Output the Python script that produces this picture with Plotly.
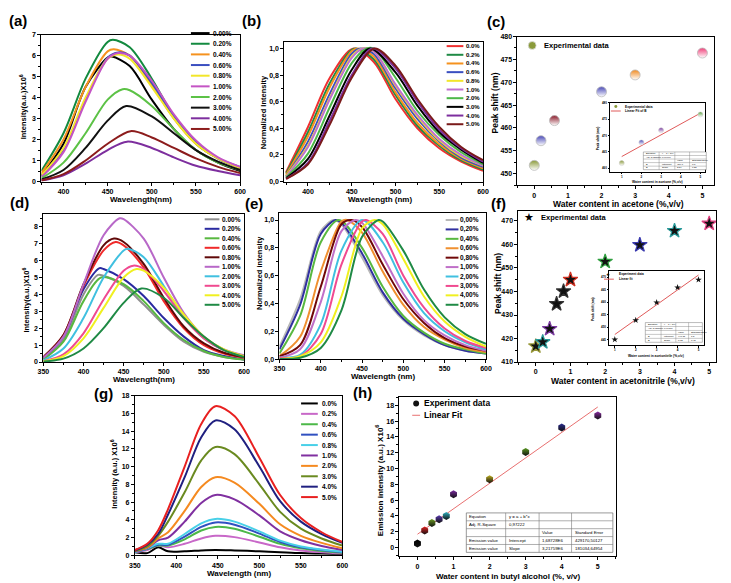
import plotly.graph_objects as go

W, H = 731, 583
FONT = "Arial, Liberation Sans, DejaVu Sans, sans-serif"

# ======================= DATA =======================
# (a) emission in acetone with water, intensity x10^6
A_WL = [375, 400, 425, 450, 475, 500, 525, 550, 575, 600]
A_LABELS = ["0.00%", "0.20%", "0.40%", "0.60%", "0.80%", "1.00%", "2.00%", "3.00%", "4.00%", "5.00%"]
A_COLORS = ["#000000", "#138a3f", "#f5921e", "#3a4fc0", "#f2e62a", "#c454c4", "#5cc246", "#111111", "#7d2e9e", "#8c1c1c"]
A_VALUES = [
    [0.30, 1.80, 4.50, 5.90, 5.50, 3.90, 2.50, 1.50, 0.90, 0.50],
    [0.50, 2.30, 4.90, 6.65, 6.40, 4.90, 3.10, 1.80, 1.10, 0.65],
    [0.40, 2.00, 4.50, 6.20, 6.00, 4.60, 3.00, 1.80, 1.10, 0.65],
    [0.25, 1.50, 3.90, 5.90, 6.00, 4.70, 3.10, 1.90, 1.10, 0.70],
    [0.30, 1.60, 4.00, 5.85, 5.85, 4.50, 3.00, 1.80, 1.10, 0.65],
    [0.20, 1.40, 3.80, 5.85, 6.00, 4.80, 3.20, 1.95, 1.15, 0.70],
    [0.15, 0.90, 2.30, 3.90, 4.35, 3.60, 2.50, 1.50, 0.90, 0.55],
    [0.10, 0.55, 1.60, 2.90, 3.55, 3.10, 2.30, 1.50, 0.95, 0.55],
    [0.05, 0.30, 0.85, 1.50, 1.85, 1.60, 1.15, 0.75, 0.50, 0.30],
    [0.05, 0.35, 1.00, 1.80, 2.35, 2.10, 1.60, 1.10, 0.70, 0.40],
]
A_PEAK_WL = [455, 456, 457, 462, 462, 462, 467, 471, 472, 476]
A_PEAK_VAL = [5.95, 6.75, 6.30, 6.15, 6.05, 6.12, 4.40, 3.60, 1.90, 2.40]

# (b) normalized, acetone
B_WL = [375, 400, 425, 450, 475, 500, 525, 550, 575, 600]
B_LABELS = ["0.0%", "0.2%", "0.4%", "0.6%", "0.8%", "1.0%", "2.0%", "3.0%", "4.0%", "5.0%"]
B_COLORS = ["#f03030", "#1f8a45", "#f5921e", "#3a4fc0", "#f2e62a", "#c070d0", "#4cb848", "#000000", "#7d2e9e", "#7a1a1a"]
B_VALUES = [
    [0.070, 0.41, 0.78, 1.00, 0.90, 0.62, 0.40, 0.25, 0.15, 0.08],
    [0.060, 0.37, 0.74, 0.99, 0.92, 0.65, 0.42, 0.27, 0.16, 0.09],
    [0.050, 0.34, 0.71, 0.98, 0.94, 0.67, 0.44, 0.28, 0.17, 0.10],
    [0.040, 0.30, 0.66, 0.96, 0.96, 0.70, 0.47, 0.30, 0.18, 0.11],
    [0.040, 0.27, 0.63, 0.94, 0.98, 0.72, 0.49, 0.31, 0.19, 0.12],
    [0.035, 0.26, 0.62, 0.93, 0.98, 0.73, 0.50, 0.32, 0.20, 0.12],
    [0.030, 0.21, 0.56, 0.89, 1.00, 0.78, 0.53, 0.35, 0.22, 0.13],
    [0.025, 0.17, 0.50, 0.84, 1.00, 0.82, 0.57, 0.37, 0.24, 0.14],
    [0.020, 0.14, 0.46, 0.80, 0.99, 0.85, 0.60, 0.39, 0.25, 0.15],
    [0.020, 0.13, 0.43, 0.78, 0.99, 0.87, 0.62, 0.41, 0.26, 0.16],
]
B_PEAK_WL = [452, 455, 457, 460, 462, 463, 467, 471, 474, 476]
B_PEAK_VAL = [1.0] * 10
B_YTICKS = [0, 0.2, 0.4, 0.6, 0.8, 1.0]
B_YTEXT = ["0,0", "0,2", "0,4", "0,6", "0,8", "1,0"]

# (c) peak shift vs water in acetone
C_X = [0, 0.2, 0.6, 2, 3, 5]
C_Y = [451.8, 457.2, 461.6, 467.9, 471.6, 476.4]
C_COLORS = ["#8a9a3a", "#4a4ab8", "#8b1a2a", "#4a4ab8", "#f08a20", "#f0407a"]
CI_X = [1, 2, 3, 5]
CI_Y = [461.6, 467.9, 471.6, 476.4]
CI_COLORS = ["#8a9a3a", "#4a4ab8", "#7a3aa0", "#5aa040"]
CI_FIT_X = [1, 5]
CI_FIT_Y = [463.6, 476.8]
CI_TABLE = [["Equation", "y = a + b*x", "", ""],
            ["Adj. R-Square", "0,96990", "", ""],
            ["", "", "Value", "Standard Error"],
            ["B", "Intercept", "459,6", "0,8"],
            ["B", "Slope", "3,54", "0,28"]]

# (d) emission in acetonitrile with water, intensity x10^6
D_WL = [350, 375, 400, 425, 450, 475, 500, 525, 550, 575, 600]
D_LABELS = ["0.00%", "0.20%", "0.40%", "0.60%", "0.80%", "1.00%", "2.00%", "3.00%", "4.00%", "5.00%"]
D_COLORS = ["#909090", "#2a2aa0", "#58b840", "#f02a2a", "#600808", "#b868c8", "#40c0e0", "#f04a90", "#f0f020", "#1f8a45"]
D_VALUES = [
    [0.15, 1.30, 4.00, 5.10, 4.50, 3.40, 2.20, 1.20, 0.60, 0.30, 0.15],
    [0.20, 1.50, 4.30, 5.50, 4.90, 3.90, 2.60, 1.50, 0.70, 0.35, 0.15],
    [0.15, 1.20, 3.60, 4.95, 4.60, 3.60, 2.30, 1.30, 0.65, 0.30, 0.15],
    [0.30, 1.60, 4.50, 6.60, 6.90, 5.60, 3.60, 2.00, 1.00, 0.50, 0.25],
    [0.30, 1.60, 4.60, 6.90, 7.10, 5.80, 3.80, 2.10, 1.10, 0.55, 0.30],
    [0.25, 1.50, 4.60, 7.50, 8.45, 7.30, 5.00, 2.90, 1.50, 0.75, 0.40],
    [0.10, 0.80, 2.60, 5.00, 6.60, 6.20, 4.50, 2.70, 1.40, 0.70, 0.35],
    [0.05, 0.45, 1.70, 3.70, 5.40, 5.50, 4.20, 2.60, 1.40, 0.70, 0.35],
    [0.05, 0.35, 1.40, 3.20, 5.00, 5.40, 4.40, 2.80, 1.50, 0.75, 0.35],
    [0.03, 0.20, 0.80, 2.00, 3.50, 4.30, 3.80, 2.60, 1.50, 0.70, 0.30],
]
D_PEAK_WL = [418, 420, 422, 440, 438, 445, 455, 462, 466, 472]
D_PEAK_VAL = [5.15, 5.55, 5.00, 7.10, 7.30, 8.50, 6.70, 5.70, 5.50, 4.35]

# (e) normalized, acetonitrile
E_WL = [350, 375, 400, 425, 450, 475, 500, 525, 550, 575, 600]
E_LABELS = ["0,00%", "0,20%", "0,40%", "0,60%", "0,80%", "1,00%", "2,00%", "3,00%", "4,00%", "5,00%"]
E_COLORS = ["#b8b8b8", "#3030a0", "#58b840", "#f09030", "#700808", "#c070c8", "#40c0e0", "#f04a90", "#f0f020", "#1f8a45"]
E_VALUES = [
    [0.09, 0.43, 0.92, 0.97, 0.73, 0.46, 0.28, 0.17, 0.10, 0.06, 0.04],
    [0.07, 0.39, 0.90, 0.98, 0.76, 0.48, 0.29, 0.18, 0.10, 0.06, 0.04],
    [0.04, 0.31, 0.84, 1.00, 0.80, 0.52, 0.31, 0.19, 0.11, 0.07, 0.04],
    [0.02, 0.16, 0.63, 0.99, 0.91, 0.63, 0.39, 0.23, 0.14, 0.08, 0.05],
    [0.02, 0.10, 0.52, 0.97, 0.95, 0.68, 0.43, 0.26, 0.15, 0.09, 0.06],
    [0.01, 0.07, 0.41, 0.92, 0.98, 0.74, 0.47, 0.28, 0.17, 0.10, 0.06],
    [0.01, 0.03, 0.25, 0.78, 1.00, 0.84, 0.55, 0.33, 0.20, 0.12, 0.07],
    [0.01, 0.02, 0.18, 0.68, 0.99, 0.90, 0.60, 0.37, 0.22, 0.13, 0.08],
    [0.00, 0.02, 0.12, 0.45, 0.94, 0.97, 0.72, 0.45, 0.27, 0.16, 0.09],
    [0.00, 0.01, 0.08, 0.35, 0.88, 0.99, 0.78, 0.50, 0.30, 0.18, 0.11],
]
E_PEAK_WL = [416, 418, 422, 432, 437, 442, 450, 455, 465, 470]
E_PEAK_VAL = [1.0] * 10

# (f) peak shift vs water in acetonitrile
F_X = [0, 0.2, 0.4, 0.6, 0.8, 1, 2, 3, 4, 5]
F_Y = [416.7, 418.5, 424.1, 434.7, 440.1, 445.0, 452.7, 459.8, 465.8, 468.9]
F_COLORS = ["#9a9a3a", "#2a9a9a", "#7a3aa0", "#333333", "#333333", "#d03020", "#30a040", "#3a3ab0", "#2a9a9a", "#e04080"]
FI_X = [1, 2, 3, 4, 5]
FI_Y = [445.0, 452.7, 459.8, 465.8, 468.9]
FI_FIT_X = [1, 5]
FI_FIT_Y = [447.0, 470.8]
FI_TABLE = [["Equation", "y = a + b*x", "", ""],
            ["Adj. R-Square", "0,97176", "", ""],
            ["", "", "Value", "Standard Error"],
            ["B", "Intercept", "440,11", "1,5"],
            ["B", "Slope", "6,03", "0,45"]]

# (g) emission in butyl alcohol with water, intensity x10^6
G_WL = [350, 365, 378, 390, 410, 430, 447, 470, 500, 525, 550, 575, 600]
G_LABELS = ["0.0%", "0.2%", "0.4%", "0.6%", "0.8%", "1.0%", "2.0%", "3.0%", "4.0%", "5.0%"]
G_COLORS = ["#000000", "#c868c8", "#4cb848", "#3050c0", "#48d0e8", "#8030a0", "#f58a20", "#6a8a20", "#202080", "#e82020"]
G_VALUES = [
    [0.35, 0.25, 0.90, 0.45, 0.45, 0.55, 0.60, 0.55, 0.45, 0.35, 0.25, 0.20, 0.15],
    [0.35, 0.60, 1.10, 0.90, 1.30, 1.90, 2.20, 2.05, 1.45, 0.90, 0.55, 0.35, 0.20],
    [0.40, 0.70, 1.10, 1.10, 1.80, 2.80, 3.20, 3.00, 2.10, 1.30, 0.80, 0.50, 0.30],
    [0.40, 0.75, 1.20, 1.20, 2.10, 3.20, 3.70, 3.45, 2.45, 1.50, 0.90, 0.60, 0.35],
    [0.40, 0.80, 1.30, 1.30, 2.40, 3.60, 4.10, 3.80, 2.70, 1.65, 1.00, 0.65, 0.40],
    [0.45, 0.85, 1.70, 2.00, 3.80, 5.90, 6.80, 6.30, 4.50, 2.70, 1.70, 1.05, 0.60],
    [0.50, 0.90, 1.90, 2.60, 5.00, 7.70, 8.80, 8.20, 5.80, 3.50, 2.20, 1.40, 0.80],
    [0.50, 1.00, 2.20, 3.80, 7.10, 10.70, 12.20, 11.40, 8.00, 4.90, 3.00, 1.90, 1.10],
    [0.55, 1.20, 2.40, 4.60, 8.80, 13.30, 15.20, 14.20, 10.00, 6.10, 3.80, 2.40, 1.40],
    [0.60, 1.30, 2.80, 5.20, 10.00, 14.80, 16.80, 15.70, 11.00, 6.80, 4.20, 2.60, 1.50],
]

# (h) emission intensity vs water in butyl alcohol
H_X = [0, 0.2, 0.4, 0.6, 0.8, 1, 2, 3, 4, 5]
H_Y = [0.53, 2.15, 3.10, 3.60, 4.00, 6.75, 8.65, 12.10, 15.20, 16.70]
H_COLORS = ["#000000", "#e02020", "#6a9a20", "#5a3ab0", "#30b0c0", "#7a2aa0", "#c0b020", "#5a9a20", "#2a2a90", "#8a2aa0"]
H_FIT_X = [0, 5]
H_FIT_Y = [1.69, 17.78]
H_TABLE = [["Equation", "y = a + b*x", "", ""],
           ["Adj. R-Square", "0,97222", "", ""],
           ["", "", "Value", "Standard Error"],
           ["Emission value", "Intercept", "1,68728E6", "429170,50127"],
           ["Emission value", "Slope", "3,21759E6", "181034,64954"]]

# ======================= HELPERS =======================
def px(x):
    return x / W


def py(y):
    return 1 - y / H


def with_peak(grid, vals, pw, pv):
    pts = [(x, y) for x, y in zip(grid, vals) if abs(x - pw) > 4] + [(pw, pv)]
    pts.sort()
    return [p[0] for p in pts], [p[1] for p in pts]


fig = go.Figure()
layout = {}
shapes = []
annotations = []


def tfont(size, color="black", bold=True):
    d = dict(family=FONT, size=size, color=color)
    if bold:
        d["weight"] = "bold"
    return d


def add_axes(n, box, xr, yr, xticks, yticks, ytext=None, fs=7, xminor=None, yminor=None, tl=3, lw=1):
    x0, x1, y0, y1 = box
    sfx = "" if n == 1 else str(n)
    common = dict(showline=True, linecolor="black", linewidth=lw, mirror=True, ticks="outside",
                  ticklen=tl, tickwidth=1, tickcolor="black", showgrid=False, zeroline=False,
                  tickfont=tfont(fs), tickmode="array", ticklabelstandoff=0)
    xa = dict(domain=[px(x0), px(x1)], range=xr, anchor="y" + sfx, tickvals=xticks, **common)
    ya = dict(domain=[py(y1), py(y0)], range=yr, anchor="x" + sfx, tickvals=yticks, **common)
    if ytext is not None:
        ya["ticktext"] = ytext
    if xminor:
        xa["minor"] = dict(ticks="outside", ticklen=max(tl - 1, 1), dtick=xminor, tickcolor="black", showgrid=False)
    if yminor:
        ya["minor"] = dict(ticks="outside", ticklen=max(tl - 1, 1), dtick=yminor, tickcolor="black", showgrid=False)
    layout["xaxis" + sfx] = xa
    layout["yaxis" + sfx] = ya
    return "x" + sfx, "y" + sfx


def text(x, y, s, size, anchor="left", angle=0, bold=True):
    annotations.append(dict(xref="paper", yref="paper", x=px(x), y=py(y), text=s, showarrow=False,
                            xanchor=anchor, yanchor="middle", textangle=angle, font=tfont(size, bold=bold)))


def line_legend(labels, colors, x0, x1, xt, y0, dy, size=6.5, width=2):
    for i, (lab, col) in enumerate(zip(labels, colors)):
        y = y0 + i * dy
        shapes.append(dict(type="line", xref="paper", yref="paper", x0=px(x0), x1=px(x1), y0=py(y), y1=py(y),
                           line=dict(color=col, width=width)))
        text(xt, y, lab, size)


def table(cols, rows, content, size, lw=0.6, pad=1):
    shapes.append(dict(type="rect", xref="paper", yref="paper", x0=px(cols[0]), x1=px(cols[-1]),
                       y0=py(rows[-1]), y1=py(rows[0]), line=dict(color="#555", width=lw), fillcolor="white"))
    for c in cols[1:-1]:
        shapes.append(dict(type="line", xref="paper", yref="paper", x0=px(c), x1=px(c), y0=py(rows[-1]), y1=py(rows[0]),
                           line=dict(color="#777", width=lw)))
    for r in rows[1:-1]:
        shapes.append(dict(type="line", xref="paper", yref="paper", x0=px(cols[0]), x1=px(cols[-1]), y0=py(r), y1=py(r),
                           line=dict(color="#777", width=lw)))
    for i, row in enumerate(content):
        yc = (rows[i] + rows[i + 1]) / 2
        for j, s in enumerate(row):
            if s:
                text(cols[j] + pad, yc, s, size, bold=False)


def spectra(xa, ya, grid, values, colors, peaks_wl=None, peaks_val=None, width=2):
    for i, vals in enumerate(values):
        if peaks_wl is not None:
            xs, ys = with_peak(grid, vals, peaks_wl[i], peaks_val[i])
        else:
            xs, ys = grid, vals
        fig.add_trace(go.Scatter(x=xs, y=ys, mode="lines", xaxis=xa, yaxis=ya,
                                 line=dict(color=colors[i], width=width, shape="spline", smoothing=0.9),
                                 showlegend=False, hoverinfo="skip"))


WL_TICKS_A = [400, 450, 500, 550, 600]
WL_TICKS_D = [350, 400, 450, 500, 550, 600]

# ======================= PANEL (a) =======================
xa, ya = add_axes(1, (36, 238, 31, 180), [375, 600], [0, 7], WL_TICKS_A, list(range(0, 8)), xminor=25, yminor=0.5)
spectra(xa, ya, A_WL, A_VALUES, A_COLORS, A_PEAK_WL, A_PEAK_VAL)
line_legend(A_LABELS, A_COLORS, 188, 207, 208, 29.5, 10.8)
text(137, 198, "Wavelength(nm)", 8, "center")
text(17, 104, "Intensity(a.u.)X10<sup>6</sup>", 7.5, "center", -90)
text(12, 17, "(a)", 15, "center")

# ======================= PANEL (b) =======================
xa, ya = add_axes(2, (283, 485, 39, 180), [373, 600], [0, 1.045], WL_TICKS_A, B_YTICKS, B_YTEXT, xminor=25, yminor=0.1)
spectra(xa, ya, B_WL, B_VALUES, B_COLORS, B_PEAK_WL, B_PEAK_VAL)
line_legend(B_LABELS, B_COLORS, 448, 465, 466, 42.7, 8.8, size=6)
text(380, 198, "Wavelength (nm)", 8, "center")
text(262, 110, "Normalized Intensity", 7.5, "center", -90)
text(250, 17, "(b)", 15, "center")

# ======================= PANEL (c) =======================
xa, ya = add_axes(3, (520, 720, 33, 184), [-0.5, 5.35], [447.4, 480], [0, 1, 2, 3, 4, 5],
                  [450, 455, 460, 465, 470, 475, 480], xminor=0.5, yminor=2.5)
fig.add_trace(go.Scatter(x=C_X, y=C_Y, mode="markers", xaxis=xa, yaxis=ya, showlegend=False, hoverinfo="skip",
                         marker=dict(size=10, color=C_COLORS, symbol="circle",
                                     gradient=dict(type="vertical", color="white"),
                                     line=dict(color="#bbbbbb", width=0.8))))
shapes.append(dict(type="circle", xref="paper", yref="paper", x0=px(531), x1=px(539), y0=py(46), y1=py(38),
                   fillcolor="#8a9a3a", line=dict(color="#dddddd", width=0.8)))
text(545, 42, "Experimental data", 7.5)
text(623, 203, "Water content in acetone (%,v/v)", 8.5, "center")
text(497, 100, "Peak shift (nm)", 8.5, "center", -90)
text(498, 18, "(c)", 15, "center")

# inset (c)
shapes.append(dict(type="rect", xref="paper", yref="paper", x0=px(600), x1=px(718), y0=py(182), y1=py(96),
                   fillcolor="white", line=dict(width=0), layer="below"))
xa, ya = add_axes(9, (614, 711, 100, 170), [0.4, 5.25], [459, 480], [1, 2, 3, 4, 5],
                  [460, 465, 470, 475, 480], fs=3, tl=1.5, lw=0.7)
fig.add_trace(go.Scatter(x=CI_FIT_X, y=CI_FIT_Y, mode="lines", xaxis=xa, yaxis=ya, showlegend=False,
                         hoverinfo="skip", line=dict(color="#e05a5a", width=1)))
fig.add_trace(go.Scatter(x=CI_X, y=CI_Y, mode="markers", xaxis=xa, yaxis=ya, showlegend=False, hoverinfo="skip",
                         marker=dict(size=5, color=CI_COLORS, gradient=dict(type="vertical", color="white"),
                                     line=dict(color="#cccccc", width=0.5))))
shapes.append(dict(type="circle", xref="paper", yref="paper", x0=px(618.5), x1=px(621.5), y0=py(105.5), y1=py(102.5),
                   fillcolor="#8a9a3a", line=dict(width=0)))
shapes.append(dict(type="line", xref="paper", yref="paper", x0=px(615), x1=px(625), y0=py(108.5), y1=py(108.5),
                   line=dict(color="#e05a5a", width=1)))
text(627, 104, "Experimental data", 3.2)
text(627, 108.5, "Linear Fit of B", 3.2)
table([648, 664, 680, 695, 712], [150, 153.6, 157.2, 160.8, 164.4, 168], CI_TABLE, 2.4, lw=0.4, pad=0.5)
text(662, 180.5, "Water content in acetone (%,v/v)", 3.3, "center")
text(602, 136, "Peak shift (nm)", 3.3, "center", -90)

# ======================= PANEL (d) =======================
xa, ya = add_axes(4, (38, 242, 213, 363), [350, 600], [0, 8.75], WL_TICKS_D, list(range(0, 9)), xminor=25, yminor=0.5)
spectra(xa, ya, D_WL, D_VALUES, D_COLORS, D_PEAK_WL, D_PEAK_VAL)
line_legend(D_LABELS, D_COLORS, 202, 217, 218, 218.3, 9.63)
text(140, 381, "Wavelength(nm)", 8, "center")
text(20, 300, "Intensity(a.u.)X10<sup>6</sup>", 7.5, "center", -90)
text(14, 201, "(d)", 15, "center")

# ======================= PANEL (e) =======================
xa, ya = add_axes(5, (278, 488, 212, 360), [350, 600], [0, 1.05], WL_TICKS_D, B_YTICKS, B_YTEXT, xminor=25, yminor=0.1)
spectra(xa, ya, E_WL, E_VALUES, E_COLORS, E_PEAK_WL, E_PEAK_VAL)
line_legend(E_LABELS, E_COLORS, 447, 460, 460, 219, 9.55)
text(383, 377.5, "Wavelength (nm)", 8, "center")
text(257, 273, "Normalized intensity", 7.5, "center", -90)
text(252, 202, "(e)", 15, "center")

# ======================= PANEL (f) =======================
xa, ya = add_axes(6, (521, 722, 210, 363), [-0.5, 5.2], [410, 474.2], [0, 1, 2, 3, 4, 5],
                  [410, 420, 430, 440, 450, 460, 470], xminor=0.5, yminor=5)
fig.add_trace(go.Scatter(x=F_X, y=F_Y, mode="markers", xaxis=xa, yaxis=ya, showlegend=False, hoverinfo="skip",
                         marker=dict(size=11, symbol="star", color="#111111",
                                     line=dict(color=F_COLORS, width=1.2))))
text(532, 216, "★", 11, "center")
text(542, 216, "Experimental data", 7.5)
text(627, 382, "Water content in acetonitrile (%,v/v)", 8.5, "center")
text(500, 283, "Peak shift (nm)", 8.5, "center", -90)
text(501, 202, "(f)", 15, "center")

# inset (f)
shapes.append(dict(type="rect", xref="paper", yref="paper", x0=px(592), x1=px(719), y0=py(360), y1=py(266),
                   fillcolor="white", line=dict(width=0), layer="below"))
xa, ya = add_axes(10, (613, 710, 271, 346), [0.72, 5.28], [442.7, 472.3], [1, 2, 3, 4, 5],
                  [445, 450, 455, 460, 465, 470], fs=3, tl=1.5, lw=0.7)
fig.add_trace(go.Scatter(x=FI_FIT_X, y=FI_FIT_Y, mode="lines", xaxis=xa, yaxis=ya, showlegend=False,
                         hoverinfo="skip", line=dict(color="#e05a5a", width=1)))
fig.add_trace(go.Scatter(x=FI_X, y=FI_Y, mode="markers", xaxis=xa, yaxis=ya, showlegend=False, hoverinfo="skip",
                         marker=dict(size=5, symbol="star", color="#111111")))
text(612, 274, "★", 4.5, "center")
shapes.append(dict(type="line", xref="paper", yref="paper", x0=px(608), x1=px(618), y0=py(279), y1=py(279),
                   line=dict(color="#e05a5a", width=1)))
text(621, 274, "Experiment data", 3.2)
text(621, 279, "Linear fit", 3.2)
table([650, 666, 681, 694, 708], [323, 327, 331, 335, 339, 343], FI_TABLE, 2.4, lw=0.4, pad=0.5)
text(661, 357, "Water content in acetonitrile (%,v/v)", 3.3, "center")
text(597, 309, "Peak shift (nm)", 3.3, "center", -90)

# ======================= PANEL (g) =======================
xa, ya = add_axes(7, (131, 342, 397, 559), [350, 600], [0, 18], WL_TICKS_D, list(range(0, 19, 2)), xminor=25, yminor=1)
spectra(xa, ya, G_WL, G_VALUES, G_COLORS)
line_legend(G_LABELS, G_COLORS, 300, 317, 319, 405, 10.55)
text(237, 577, "Wavelength (nm)", 8, "center")
text(110, 477, "Intensity (a.u.) X10<sup>6</sup>", 7.5, "center", -90)
text(99, 395, "(g)", 15, "center")

# ======================= PANEL (h) =======================
xa, ya = add_axes(8, (400, 620, 398, 560), [-0.5, 5.5], [-1.1, 19.1], [0, 1, 2, 3, 4, 5],
                  list(range(0, 19, 2)), xminor=0.5, yminor=1)
fig.add_trace(go.Scatter(x=H_FIT_X, y=H_FIT_Y, mode="lines", xaxis=xa, yaxis=ya, showlegend=False,
                         hoverinfo="skip", line=dict(color="#e87070", width=1)))
fig.add_trace(go.Scatter(x=H_X, y=H_Y, mode="markers", xaxis=xa, yaxis=ya, showlegend=False, hoverinfo="skip",
                         marker=dict(size=8, symbol="hexagon", color=H_COLORS,
                                     gradient=dict(type="vertical", color="#111111"), line=dict(width=0))))
shapes.append(dict(type="circle", xref="paper", yref="paper", x0=px(414), x1=px(420), y0=py(408), y1=py(402),
                   fillcolor="#111111", line=dict(width=0)))
shapes.append(dict(type="line", xref="paper", yref="paper", x0=px(413), x1=px(421), y0=py(417), y1=py(417),
                   line=dict(color="#e87070", width=1)))
text(423, 405, "Experiment data", 8.5)
text(423, 417, "Linear Fit", 8.5)
table([468, 508, 542, 575, 617], [516, 524, 532, 540, 548, 556], H_TABLE, 4.3)
text(510, 580.5, "Water content in butyl alcohol (%, v/v)", 8, "center")
text(380, 483, "Emission intensity (a.u.) X10<sup>6</sup>", 8, "center", -90)
text(362, 394, "(h)", 15, "center")

layout.update(dict(width=W, height=H, margin=dict(l=0, r=0, t=0, b=0), paper_bgcolor="white",
                   plot_bgcolor="rgba(0,0,0,0)", showlegend=False, shapes=shapes, annotations=annotations,
                   font=dict(family=FONT, color="black")))
fig.update_layout(**layout)
fig.write_html("out.html")
